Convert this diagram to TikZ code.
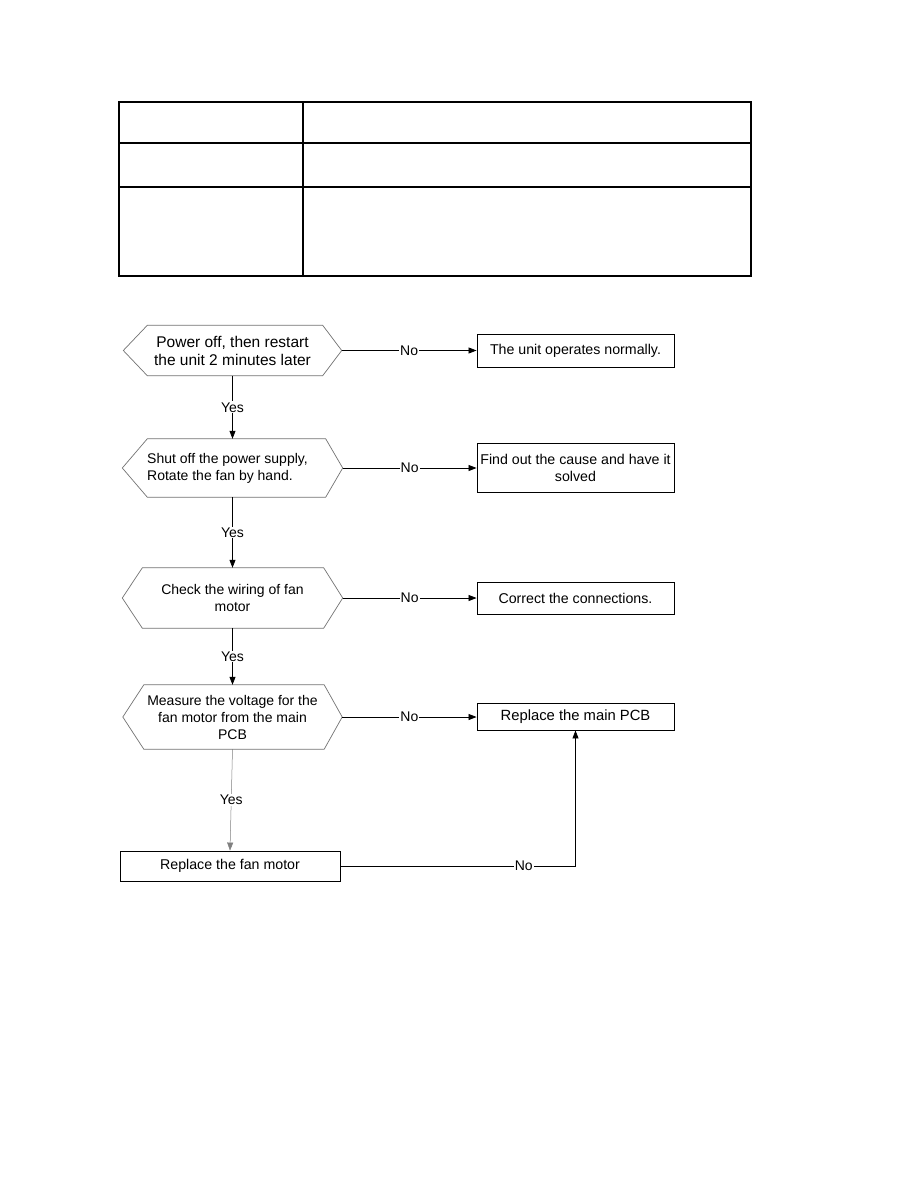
\documentclass[tikz,border=0pt]{standalone}
\usepackage{fontspec}
\setmainfont{Liberation Sans}
\usetikzlibrary{arrows.meta,calc}
\newcommand\hexoutline[3]{\draw[hexline] (#1.west) -- ([xshift=#2]#1.north west) -- ([xshift=-#3]#1.north east) -- (#1.east) -- ([xshift=-#3]#1.south east) -- ([xshift=#2]#1.south west) -- cycle;}
\begin{document}
\begin{tikzpicture}[x=1pt,y=-1pt,
  hexbox/.style={draw=none,inner sep=0pt,align=center,font=\fontsize{14}{17}\selectfont},
  hexline/.style={draw=black!55,line width=0.7pt},
  procbox/.style={draw=black,line width=0.9pt,inner sep=0pt,align=center,font=\fontsize{14.2}{17}\selectfont},
  flow/.style={draw=black,line width=0.8pt,-{Triangle[length=8pt,width=6pt]}},
  thinflow/.style={draw=black!50,line width=0.5pt,-{Triangle[length=8pt,width=6pt]}},
  lbl/.style={fill=white,inner sep=1pt,font=\fontsize{14}{17}\selectfont},
  tbl/.style={draw=black,line width=1.4pt}]
\useasboundingbox (0,0) rectangle (918,1188);
\fill[white] (0,0) rectangle (918,1188);

% table
\draw[tbl] (119,102) rectangle (751,276);
\draw[tbl] (119,143) -- (751,143);
\draw[tbl] (119,187) -- (751,187);
\draw[tbl] (303,102) -- (303,276);

% decisions
\node[hexbox,minimum width=218pt,minimum height=50pt,font=\fontsize{15.5}{18}\selectfont] (h1) at (232.5,350.5) {Power off, then restart\\the unit 2 minutes later};
\node[hexbox,minimum width=220pt,minimum height=58pt,align=left] (h2) at (232.5,468) {\hspace*{-10pt}Shut off the power supply,\\\hspace*{-10pt}Rotate the fan by hand.};
\node[hexbox,minimum width=220pt,minimum height=60pt] (h3) at (232.5,598) {Check the wiring of fan\\motor};
\node[hexbox,minimum width=219pt,minimum height=64pt] (h4) at (232.5,717) {Measure the voltage for the\\fan motor from the main\\PCB};
\hexoutline{h1}{24pt}{19pt}
\hexoutline{h2}{25pt}{17pt}
\hexoutline{h3}{20pt}{19pt}
\hexoutline{h4}{21pt}{18pt}

% process boxes
\node[procbox,minimum width=197pt,minimum height=33pt] (b1) at (575.5,350.5) {The unit operates normally.};
\node[procbox,minimum width=197pt,minimum height=49pt] (b2) at (575.5,467.5) {Find out the cause and have it\\solved};
\node[procbox,minimum width=197pt,minimum height=32pt] (b3) at (575.5,598) {Correct the connections.};
\node[procbox,minimum width=197pt,minimum height=27pt,font=\fontsize{14.8}{17}\selectfont] (b4) at (575.5,716.5) {Replace the main PCB};
\node[procbox,minimum width=220pt,minimum height=30pt] (b5) at (230,866) {Replace the fan motor};

% No branches
\draw[flow] (h1.east) -- node[lbl]{No} (h1.east -| b1.west);
\draw[flow] (h2.east) -- node[lbl]{No} (h2.east -| b2.west);
\draw[flow] (h3.east) -- node[lbl]{No} (h3.east -| b3.west);
\draw[flow] (h4.east) -- node[lbl]{No} (h4.east -| b4.west);

% Yes branches
\draw[flow] (h1.south) -- node[lbl]{Yes} (h2.north);
\draw[flow] (h2.south) -- node[lbl]{Yes} (h3.north);
\draw[flow] (h3.south) -- node[lbl]{Yes} (h4.north);
\draw[thinflow] (h4.south) -- node[lbl]{Yes} (b5.north);

% loop back
\draw[flow] (b5.east) -| node[lbl,pos=0.39]{No} (b4.south);
\end{tikzpicture}
\end{document}
